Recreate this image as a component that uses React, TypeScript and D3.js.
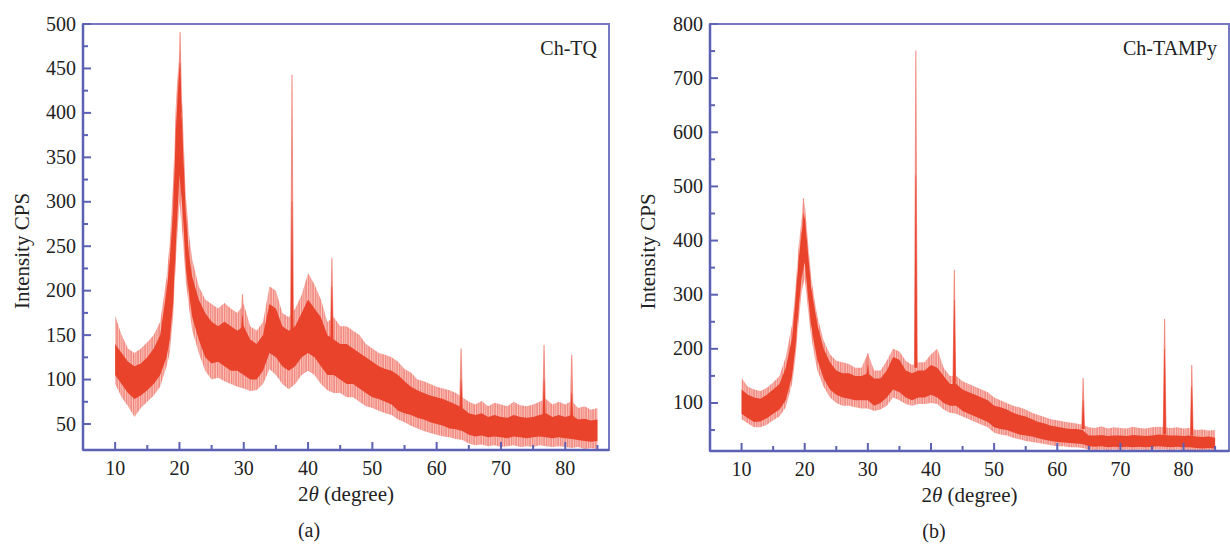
import React from "react";
import * as d3 from "d3";

const twoTheta = [10, 11, 12, 13, 14, 15, 16, 17, 18, 18.5, 19, 19.5, 20, 20.5, 21, 21.5, 22, 23, 24, 25, 26, 27, 28, 29, 30, 31, 32, 33, 34, 35, 36, 37, 38, 39, 40, 41, 42, 43, 44, 45, 46, 47, 48, 49, 50, 51, 52, 53, 54, 55, 56, 57, 58, 59, 60, 61, 62, 63, 64, 65, 66, 67, 68, 69, 70, 71, 72, 73, 74, 75, 76, 77, 78, 79, 80, 81, 82, 83, 84, 85];

// (a) Ch-TQ : dense core of the noisy trace and its outer fringe
const tqCoreLow = [105, 95, 85, 78, 82, 88, 95, 105, 125, 145, 185, 260, 330, 290, 225, 195, 170, 145, 125, 118, 120, 115, 110, 110, 105, 100, 100, 110, 130, 125, 115, 110, 115, 125, 130, 125, 115, 105, 105, 100, 95, 95, 90, 85, 80, 78, 75, 72, 65, 62, 60, 57, 55, 52, 50, 48, 45, 44, 42, 38, 36, 37, 35, 36, 35, 34, 36, 35, 34, 35, 36, 35, 34, 35, 34, 33, 32, 31, 30, 31];
const tqCoreHigh = [140, 130, 120, 115, 118, 125, 135, 150, 200, 235, 290, 390, 455, 370, 285, 240, 215, 190, 175, 165, 160, 165, 160, 155, 160, 145, 140, 150, 185, 180, 160, 155, 160, 175, 190, 180, 170, 150, 145, 140, 140, 135, 130, 125, 120, 115, 112, 110, 105, 98, 92, 88, 85, 82, 80, 78, 75, 72, 68, 62, 60, 62, 58, 60, 58, 57, 60, 58, 57, 58, 60, 62, 58, 60, 58, 60, 55, 56, 54, 55];
const tqOuterLow = [95, 80, 70, 58, 68, 75, 82, 92, 115, 130, 170, 240, 300, 260, 210, 180, 155, 130, 110, 100, 102, 98, 95, 92, 90, 87, 88, 95, 112, 105, 95, 89, 95, 105, 110, 105, 95, 88, 85, 85, 80, 80, 75, 70, 68, 65, 62, 60, 55, 52, 48, 45, 42, 40, 38, 36, 35, 33, 32, 28, 26, 27, 25, 26, 24, 25, 26, 24, 25, 24, 26, 25, 24, 25, 24, 23, 24, 22, 23, 22];
const tqOuterHigh = [172, 150, 135, 130, 135, 142, 150, 165, 215, 255, 320, 420, 470, 400, 305, 262, 235, 205, 190, 185, 180, 186, 180, 175, 185, 160, 155, 165, 205, 200, 175, 170, 180, 195, 220, 207, 190, 165, 170, 160, 160, 155, 150, 140, 135, 130, 128, 125, 120, 112, 108, 100, 98, 95, 92, 90, 88, 85, 80, 75, 72, 76, 70, 74, 72, 70, 75, 71, 70, 72, 75, 78, 72, 75, 72, 76, 68, 70, 66, 68];
const tqSpikePos = [20.1, 29.8, 37.5, 43.7, 63.8, 76.7, 81.0];
const tqSpikeTop = [491, 196, 443, 237, 135, 139, 128];
const tqSpikeCore = [456, 172, 300, 205, 100, 100, 85];
const tqSpikeBase = [400, 155, 155, 145, 68, 58, 58];

// (b) Ch-TAMPy
const tampyCoreLow = [80, 72, 65, 66, 72, 80, 88, 105, 150, 200, 270, 330, 360, 300, 245, 210, 180, 145, 125, 115, 110, 108, 105, 105, 105, 95, 100, 110, 125, 120, 110, 105, 110, 110, 115, 110, 100, 95, 95, 85, 80, 75, 70, 65, 55, 52, 50, 46, 42, 40, 38, 35, 32, 30, 28, 27, 26, 25, 24, 20, 19, 20, 18, 19, 18, 19, 18, 19, 18, 19, 20, 19, 18, 19, 18, 18, 17, 16, 17, 16];
const tampyCoreHigh = [125, 115, 110, 108, 115, 125, 135, 165, 220, 285, 360, 415, 445, 380, 315, 280, 245, 200, 175, 160, 155, 155, 150, 150, 155, 145, 145, 160, 185, 180, 160, 155, 160, 160, 170, 165, 150, 135, 135, 125, 120, 115, 110, 105, 95, 92, 88, 82, 78, 75, 70, 65, 62, 58, 56, 54, 52, 52, 50, 40, 40, 41, 39, 40, 40, 39, 41, 40, 39, 40, 42, 41, 40, 40, 39, 40, 38, 37, 38, 36];
const tampyOuterLow = [70, 62, 55, 55, 60, 68, 75, 92, 135, 180, 245, 305, 330, 275, 225, 190, 160, 130, 110, 100, 95, 95, 92, 90, 90, 85, 88, 95, 110, 105, 98, 95, 98, 98, 100, 98, 88, 82, 80, 75, 70, 65, 60, 55, 45, 42, 40, 36, 33, 30, 28, 26, 24, 22, 20, 20, 18, 18, 17, 14, 13, 14, 13, 14, 13, 14, 13, 14, 13, 14, 14, 14, 13, 14, 13, 13, 12, 12, 13, 12];
const tampyOuterHigh = [146, 130, 125, 122, 128, 138, 150, 185, 245, 305, 385, 440, 470, 400, 335, 295, 260, 215, 190, 178, 175, 172, 165, 165, 192, 160, 160, 178, 200, 195, 178, 170, 175, 175, 190, 200, 165, 150, 150, 140, 135, 130, 125, 120, 110, 105, 100, 95, 92, 88, 82, 78, 74, 70, 68, 66, 64, 62, 60, 55, 54, 57, 53, 55, 54, 53, 56, 54, 53, 55, 56, 55, 54, 55, 53, 54, 50, 51, 49, 50];
const tampySpikePos = [19.8, 30.0, 37.6, 43.7, 64.1, 77.0, 81.3];
const tampySpikeTop = [478, 192, 751, 346, 146, 255, 170];
const tampySpikeCore = [450, 170, 520, 290, 105, 200, 130];
const tampySpikeBase = [400, 150, 165, 135, 52, 42, 40];

// axes
const xMajorTicks = [10, 20, 30, 40, 50, 60, 70, 80];
const xMinorTicks = [15, 25, 35, 45, 55, 65, 75, 85];
const tqYMajor = [50, 100, 150, 200, 250, 300, 350, 400, 450, 500];
const tqYMinor = [75, 125, 175, 225, 275, 325, 375, 425, 475];
const tampyYMajor = [100, 200, 300, 400, 500, 600, 700, 800];
const tampyYMinor = [50, 150, 250, 350, 450, 550, 650, 750];

const AXIS = "#5d61b4";
const CORE = "#e9432c";
const FRINGE = "#f28a80";
const FONT = "Liberation Serif, Times New Roman, serif";

type PanelProps = {
  id: string;
  left: number;
  right: number;
  top: number;
  bottom: number;
  xDomain: [number, number];
  yDomain: [number, number];
  yMajor: number[];
  yMinor: number[];
  coreLow: number[];
  coreHigh: number[];
  outerLow: number[];
  outerHigh: number[];
  spikePos: number[];
  spikeTop: number[];
  spikeCore: number[];
  spikeBase: number[];
  name: string;
  caption: string;
  titleBaselineX: number;
  captionX: number;
};

function Panel(p: PanelProps) {
  const x = d3.scaleLinear().domain(p.xDomain).range([p.left, p.right]);
  const y = d3.scaleLinear().domain(p.yDomain).range([p.bottom, p.top]);
  const idx = d3.range(twoTheta.length);

  const band = (lo: number[], hi: number[]) =>
    d3
      .area<number>()
      .x((i) => x(twoTheta[i]))
      .y0((i) => y(lo[i]))
      .y1((i) => y(hi[i]))
      .curve(d3.curveLinear)(idx) || "";

  type SP = { t: number; a: number; b: number };
  const spikeArea = d3
    .area<SP>()
    .x((d) => x(d.t))
    .y0((d) => y(d.a))
    .y1((d) => y(d.b));

  const spikes = p.spikePos.map((pos, i) => {
    const base = p.spikeBase[i];
    const outer: SP[] = [
      { t: pos - 0.3, a: base, b: base },
      { t: pos - 0.08, a: base, b: p.spikeTop[i] },
      { t: pos + 0.08, a: base, b: p.spikeTop[i] },
      { t: pos + 0.3, a: base, b: base },
    ];
    const core: SP[] = [
      { t: pos - 0.22, a: base, b: base },
      { t: pos - 0.04, a: base, b: p.spikeCore[i] },
      { t: pos + 0.04, a: base, b: p.spikeCore[i] },
      { t: pos + 0.22, a: base, b: base },
    ];
    return { outer: spikeArea(outer) || "", core: spikeArea(core) || "" };
  });

  const midX = (p.left + p.right) / 2;
  const midY = (p.top + p.bottom) / 2;

  return (
    <g>
      <defs>
        <clipPath id={`clip-${p.id}`}>
          <rect x={p.left} y={p.top} width={p.right - p.left} height={p.bottom - p.top} />
        </clipPath>
        <pattern id={`hair-${p.id}`} width={7} height={9} patternUnits="userSpaceOnUse">
          <rect x={0} y={0} width={7} height={9} fill="#f8c0b9" />
          <rect x={0} y={0} width={1.3} height={9} fill={FRINGE} />
          <rect x={2.4} y={0} width={0.9} height={9} fill="#ee6d60" opacity={0.7} />
          <rect x={4.3} y={0} width={1.6} height={9} fill={FRINGE} />
        </pattern>
      </defs>
      <g clipPath={`url(#clip-${p.id})`}>
        <path d={band(p.outerLow, p.outerHigh)} fill={`url(#hair-${p.id})`} />
        {spikes.map((s, i) => (
          <path key={`so${i}`} d={s.outer} fill={FRINGE} />
        ))}
        <path d={band(p.coreLow, p.coreHigh)} fill={CORE} />
        {spikes.map((s, i) => (
          <path key={`sc${i}`} d={s.core} fill={CORE} />
        ))}
      </g>

      {/* frame */}
      <rect
        x={p.left}
        y={p.top}
        width={p.right - p.left}
        height={p.bottom - p.top}
        fill="none"
        stroke={AXIS}
        strokeWidth={2}
        opacity={0.85}
      />
      <line x1={p.left} x2={p.left} y1={p.top} y2={p.bottom} stroke={AXIS} strokeWidth={2.5} />
      <line x1={p.left} x2={p.right} y1={p.bottom} y2={p.bottom} stroke={AXIS} strokeWidth={2.5} />

      {/* x ticks */}
      {xMajorTicks.map((t) => (
        <g key={`xm${t}`}>
          <line x1={x(t)} x2={x(t)} y1={p.bottom} y2={p.bottom - 8} stroke={AXIS} strokeWidth={2} />
          <text x={x(t)} y={p.bottom + 25} textAnchor="middle" fontSize={20} fontFamily={FONT} fill="#222">
            {t}
          </text>
        </g>
      ))}
      {xMinorTicks.map((t) => (
        <line key={`xn${t}`} x1={x(t)} x2={x(t)} y1={p.bottom} y2={p.bottom - 5} stroke={AXIS} strokeWidth={2} />
      ))}

      {/* y ticks */}
      {p.yMajor.map((t) => (
        <g key={`ym${t}`}>
          <line x1={p.left} x2={p.left + 8} y1={y(t)} y2={y(t)} stroke={AXIS} strokeWidth={2} />
          <text x={p.left - 7} y={y(t) + 6.5} textAnchor="end" fontSize={20} fontFamily={FONT} fill="#222">
            {t}
          </text>
        </g>
      ))}
      {p.yMinor.map((t) => (
        <line key={`yn${t}`} x1={p.left} x2={p.left + 5} y1={y(t)} y2={y(t)} stroke={AXIS} strokeWidth={2} />
      ))}

      {/* titles */}
      <text
        transform={`translate(${p.titleBaselineX},${midY + 14}) rotate(-90)`}
        textAnchor="middle"
        fontSize={21}
        fontFamily={FONT}
        fill="#222"
      >
        Intensity CPS
      </text>
      <text x={midX} y={p.bottom + 51} textAnchor="middle" fontSize={21} fontFamily={FONT} fill="#222">
        2<tspan fontStyle="italic">θ</tspan> (degree)
      </text>
      <text x={p.right - 12} y={p.top + 31} textAnchor="end" fontSize={20} fontFamily={FONT} fill="#222">
        {p.name}
      </text>
      <text x={p.captionX} y={p.bottom + 87} textAnchor="middle" fontSize={20} fontFamily={FONT} fill="#222">
        {p.caption}
      </text>
    </g>
  );
}

export default function App() {
  return (
    <svg
      width={1230}
      height={546}
      viewBox="0 0 1230 546"
      style={{ position: "absolute", left: 0, top: 0, background: "#fff" }}
    >
      <rect x={0} y={0} width={1230} height={546} fill="#fff" />
      <Panel
        id="a"
        left={83}
        right={609}
        top={24}
        bottom={450}
        xDomain={[5, 86.8]}
        yDomain={[20.75, 500]}
        yMajor={tqYMajor}
        yMinor={tqYMinor}
        coreLow={tqCoreLow}
        coreHigh={tqCoreHigh}
        outerLow={tqOuterLow}
        outerHigh={tqOuterHigh}
        spikePos={tqSpikePos}
        spikeTop={tqSpikeTop}
        spikeCore={tqSpikeCore}
        spikeBase={tqSpikeBase}
        name="Ch-TQ"
        caption="(a)"
        titleBaselineX={29}
        captionX={309}
      />
      <Panel
        id="b"
        left={710}
        right={1229}
        top={24}
        bottom={451}
        xDomain={[5, 87.2]}
        yDomain={[11.3, 800]}
        yMajor={tampyYMajor}
        yMinor={tampyYMinor}
        coreLow={tampyCoreLow}
        coreHigh={tampyCoreHigh}
        outerLow={tampyOuterLow}
        outerHigh={tampyOuterHigh}
        spikePos={tampySpikePos}
        spikeTop={tampySpikeTop}
        spikeCore={tampySpikeCore}
        spikeBase={tampySpikeBase}
        name="Ch-TAMPy"
        caption="(b)"
        titleBaselineX={655}
        captionX={934}
      />
    </svg>
  );
}
